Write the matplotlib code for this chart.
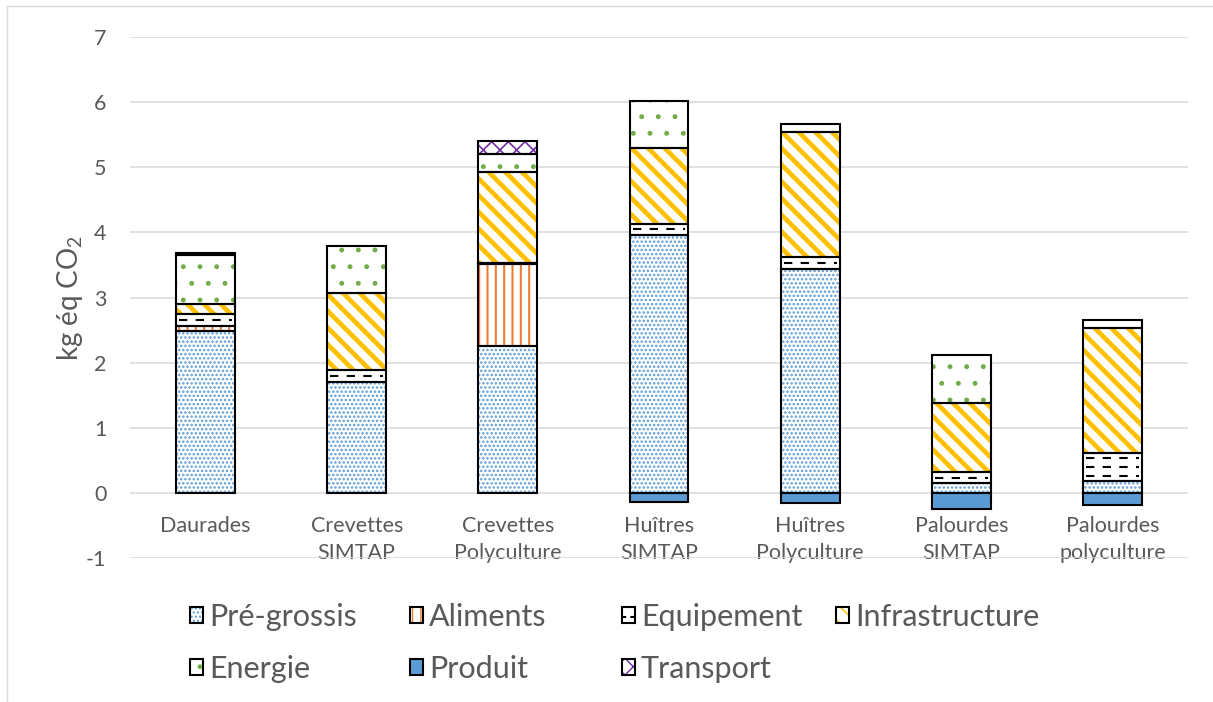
import numpy as np
import matplotlib
matplotlib.use('Agg')
import matplotlib.pyplot as plt
from matplotlib.patches import Patch, Rectangle
from matplotlib.lines import Line2D
from matplotlib.legend_handler import HandlerTuple

plt.rcParams['font.family'] = ['Lato', 'DejaVu Sans']
plt.rcParams['mathtext.default'] = 'regular'
plt.rcParams['axes.unicode_minus'] = False

categories = ['Daurades', 'Crevettes\nSIMTAP', 'Crevettes\nPolyculture', 'Huîtres\nSIMTAP',
              'Huîtres\nPolyculture', 'Palourdes\nSIMTAP', 'Palourdes\npolyculture']
pre_grossis = [2.49, 1.71, 2.26, 3.96, 3.43, 0.15, 0.18]
aliments = [0.08, 0.0, 1.25, 0.0, 0.0, 0.0, 0.0]
equipement = [0.17, 0.17, 0.02, 0.17, 0.19, 0.17, 0.43]
infrastructure = [0.16, 1.19, 1.39, 1.16, 1.92, 1.06, 1.92]
energie = [0.75, 0.72, 0.28, 0.72, 0.12, 0.73, 0.12]
produit = [0.0, 0.0, 0.0, -0.14, -0.15, -0.25, -0.18]
transport = [0.03, 0.0, 0.21, 0.0, 0.0, 0.0, 0.0]

# name, values, hatch, hatch colour, face colour, hatch linewidth
series = [
    ('Pré-grossis', pre_grossis, '....', '#5B9BD5', 'white', 1.2),
    ('Aliments', aliments, '||', '#ED7D31', 'white', 1.5),
    ('Equipement', equipement, None, 'white', 'white', 1.0),   # dashes drawn below
    ('Infrastructure', infrastructure, '\\\\', '#FFC000', 'white', 3.4),
    ('Energie', energie, '.', '#70AD47', 'white', 1.1),
    ('Produit', produit, None, '#5B9BD5', '#5B9BD5', 1.0),
    ('Transport', transport, 'xx', '#7030A0', 'white', 1.2),
]

GREY = '#595959'
WIDTH = 0.39
DASH = (0, (4, 4))

fig = plt.figure(figsize=(12.13, 7.02), dpi=100)
ax = fig.add_axes([130/1213, 1 - 558/702, 1058/1213, 521/702])

x = np.arange(len(categories))
pos_bottom = np.zeros(len(categories))
neg_bottom = np.zeros(len(categories))
handles = {}
for name, vals, hatch, hcol, fcol, hlw in series:
    v = np.array(vals)
    bottom = np.where(v >= 0, pos_bottom, neg_bottom)
    lw = np.where(v != 0, 1.5, 0)
    with plt.rc_context({'hatch.linewidth': hlw}):
        bars = ax.bar(x, v, WIDTH, bottom=bottom, color=fcol, edgecolor=hcol,
                      hatch=hatch, linewidth=0, zorder=2)
        for b in bars:
            if hasattr(b, 'set_hatch_linewidth'):
                b.set_hatch_linewidth(hlw)
        ax.bar(x, v, WIDTH, bottom=bottom, fill=False, edgecolor='black',
               linewidth=lw, zorder=3)
        p1 = Patch(facecolor=fcol, edgecolor=hcol, hatch=hatch, linewidth=0)
        if hasattr(p1, 'set_hatch_linewidth'):
            p1.set_hatch_linewidth(hlw)
    p2 = Patch(fill=False, edgecolor='black', linewidth=1.5)
    if name == 'Equipement':
        # dashed rows inside each equipment segment
        for xi, b0, h in zip(x, bottom, v):
            if h < 0.05:
                continue
            n = max(1, int(h / 0.13))
            ys = b0 + h * (np.arange(n) + 0.5) / n
            ax.hlines(ys, xi - WIDTH/2 + 0.02, xi + WIDTH/2 - 0.02, colors='black',
                      linewidth=1.5, linestyles=DASH, zorder=2.5)
        handles[name] = (p1, Line2D([], [], color='black', lw=1.5, ls=(0, (2, 2))), p2)
    else:
        handles[name] = (p1, p2)
    pos_bottom = pos_bottom + np.where(v > 0, v, 0)
    neg_bottom = neg_bottom + np.where(v < 0, v, 0)

ax.set_xlim(-0.5, len(categories) - 0.5)
ax.set_ylim(-1, 7)
ax.set_yticks(np.arange(-1, 8, 1))
ax.yaxis.grid(True, color='#D9D9D9', linewidth=1.1, zorder=0)
ax.set_axisbelow(True)
for s in ['top', 'right', 'left']:
    ax.spines[s].set_visible(False)
ax.spines['bottom'].set_position(('data', 0))
ax.spines['bottom'].set_visible(False)
ax.set_xticks(x)
ax.set_xticklabels(categories, multialignment='center', linespacing=1.4)
ax.tick_params(axis='x', length=0, pad=17, labelsize=15.5, labelcolor=GREY)
ax.tick_params(axis='y', length=0, pad=17, labelsize=15.5, labelcolor=GREY)
ax.set_ylabel('kg éq CO$_2$', fontsize=20, color=GREY, labelpad=1)

# legend in four columns placed like the original
cols = [['Pré-grossis', 'Energie'], ['Aliments', 'Produit'],
        ['Equipement', 'Transport'], ['Infrastructure']]
col_x = [190, 410, 622, 836]
for names, cx in zip(cols, col_x):
    leg = fig.legend([handles[n] for n in names], names, loc='upper left',
                     bbox_to_anchor=(cx/1213, 1 - 603/702), frameon=False,
                     fontsize=22, handler_map={tuple: HandlerTuple(ndivide=1, pad=0)},
                     handlelength=0.42, handleheight=0.42, handletextpad=0.2,
                     labelspacing=0.78, borderpad=0, borderaxespad=0)
    for t in leg.get_texts():
        t.set_color(GREY)

fig.add_artist(Rectangle((7/1213, -0.05), 1.2, 1.05 - 6/702, transform=fig.transFigure,
                         fill=False, edgecolor='#D9D9D9', linewidth=1.0))

fig.savefig('out.png', dpi=100)
